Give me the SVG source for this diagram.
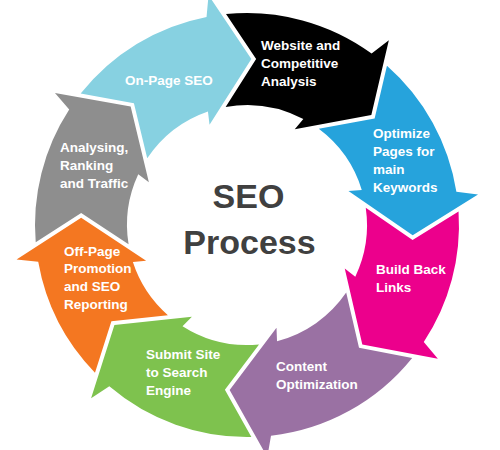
<svg xmlns="http://www.w3.org/2000/svg" width="500" height="450" viewBox="0 0 500 450">
<style>
.lbl{font-family:"Liberation Sans",Arial,sans-serif;font-weight:bold;font-size:13.5px;fill:#ffffff}
.ttl{font-family:"Liberation Sans",Arial,sans-serif;font-weight:bold;font-size:34px;fill:#404040;text-anchor:middle}
</style>
<rect width="500" height="450" fill="#ffffff"/>
<g id="connectors"></g>
<g id="n-onpage">
<path fill="#87d1e1" transform="translate(247,225) rotate(1.5)" d="M-169.72,-127.04 A212,212 0 0 1 -45.88,-206.97 L-44.46,-228.72 L0,-166 L-40.08,-99.21 L-42.02,-112.40 A120,120 0 0 0 -101.49,-64.02 L-116.23,-118.87 Z"/>
<text class="lbl" x="125" y="85">On-Page SEO</text>
</g>
<g id="n-website">
<path fill="#000000" transform="translate(247,225) rotate(48.5)" d="M-171.90,-124.06 A212,212 0 0 1 -45.88,-206.97 L-44.46,-228.72 L0,-166 L-40.08,-99.21 L-42.02,-112.40 A120,120 0 0 0 -102.59,-62.24 L-118.28,-116.82 Z"/>
<text class="lbl" x="261" y="50">Website and</text>
<text class="lbl" x="261" y="68">Competitive</text>
<text class="lbl" x="261" y="86">Analysis</text>
</g>
<g id="n-optimize">
<path fill="#26a3dc" transform="translate(247,225) rotate(93.5)" d="M-167.47,-129.98 A212,212 0 0 1 -45.88,-206.97 L-44.46,-228.72 L0,-166 L-40.08,-99.21 L-42.02,-112.40 A120,120 0 0 0 -100.36,-65.78 L-114.13,-120.88 Z"/>
<text class="lbl" x="373" y="138">Optimize</text>
<text class="lbl" x="373" y="156">Pages for</text>
<text class="lbl" x="373" y="174">main</text>
<text class="lbl" x="373" y="192">Keywords</text>
</g>
<g id="n-backlinks">
<path fill="#ec008c" transform="translate(247,225) rotate(136)" d="M-161.64,-137.16 A212,212 0 0 1 -45.88,-206.97 L-44.46,-228.72 L0,-166 L-40.08,-99.21 L-42.02,-112.40 A120,120 0 0 0 -97.39,-70.10 L-108.75,-125.74 Z"/>
<text class="lbl" x="376" y="274">Build Back</text>
<text class="lbl" x="376" y="292">Links</text>
</g>
<g id="n-content">
<path fill="#9a71a3" transform="translate(247,225) rotate(186)" d="M-178.16,-114.89 A212,212 0 0 1 -45.88,-206.97 L-44.46,-228.72 L0,-166 L-40.08,-99.21 L-42.02,-112.40 A120,120 0 0 0 -105.71,-56.79 L-124.24,-110.47 Z"/>
<text class="lbl" x="276" y="371">Content</text>
<text class="lbl" x="276" y="389">Optimization</text>
</g>
<g id="n-submit">
<path fill="#7ec24e" transform="translate(247,225) rotate(233)" d="M-171.90,-124.06 A212,212 0 0 1 -45.88,-206.97 L-44.46,-228.72 L0,-166 L-40.08,-99.21 L-42.02,-112.40 A120,120 0 0 0 -102.59,-62.24 L-118.28,-116.82 Z"/>
<text class="lbl" x="146" y="359">Submit Site</text>
<text class="lbl" x="146" y="377">to Search</text>
<text class="lbl" x="146" y="395">Engine</text>
</g>
<g id="n-offpage">
<path fill="#f47721" transform="translate(247,225) rotate(272.5)" d="M-154.24,-145.43 A212,212 0 0 1 -45.88,-206.97 L-44.46,-228.72 L0,-166 L-40.08,-99.21 L-42.02,-112.40 A120,120 0 0 0 -93.59,-75.10 L-102.02,-131.26 Z"/>
<text class="lbl" x="64" y="256">Off-Page</text>
<text class="lbl" x="64" y="273">Promotion</text>
<text class="lbl" x="64" y="291">and SEO</text>
<text class="lbl" x="64" y="309">Reporting</text>
</g>
<g id="n-analysing">
<path fill="#8e8e8e" transform="translate(247,225) rotate(315.5)" d="M-162.83,-135.75 A212,212 0 0 1 -45.88,-206.97 L-44.46,-228.72 L0,-166 L-40.08,-99.21 L-42.02,-112.40 A120,120 0 0 0 -98.00,-69.24 L-109.85,-124.79 Z"/>
<text class="lbl" x="60" y="152">Analysing,</text>
<text class="lbl" x="60" y="170">Ranking</text>
<text class="lbl" x="60" y="188">and Traffic</text>
</g>
<g id="title">
<text class="ttl" x="248.5" y="208">SEO</text>
<text class="ttl" x="249.5" y="254">Process</text>
</g>
</svg>
